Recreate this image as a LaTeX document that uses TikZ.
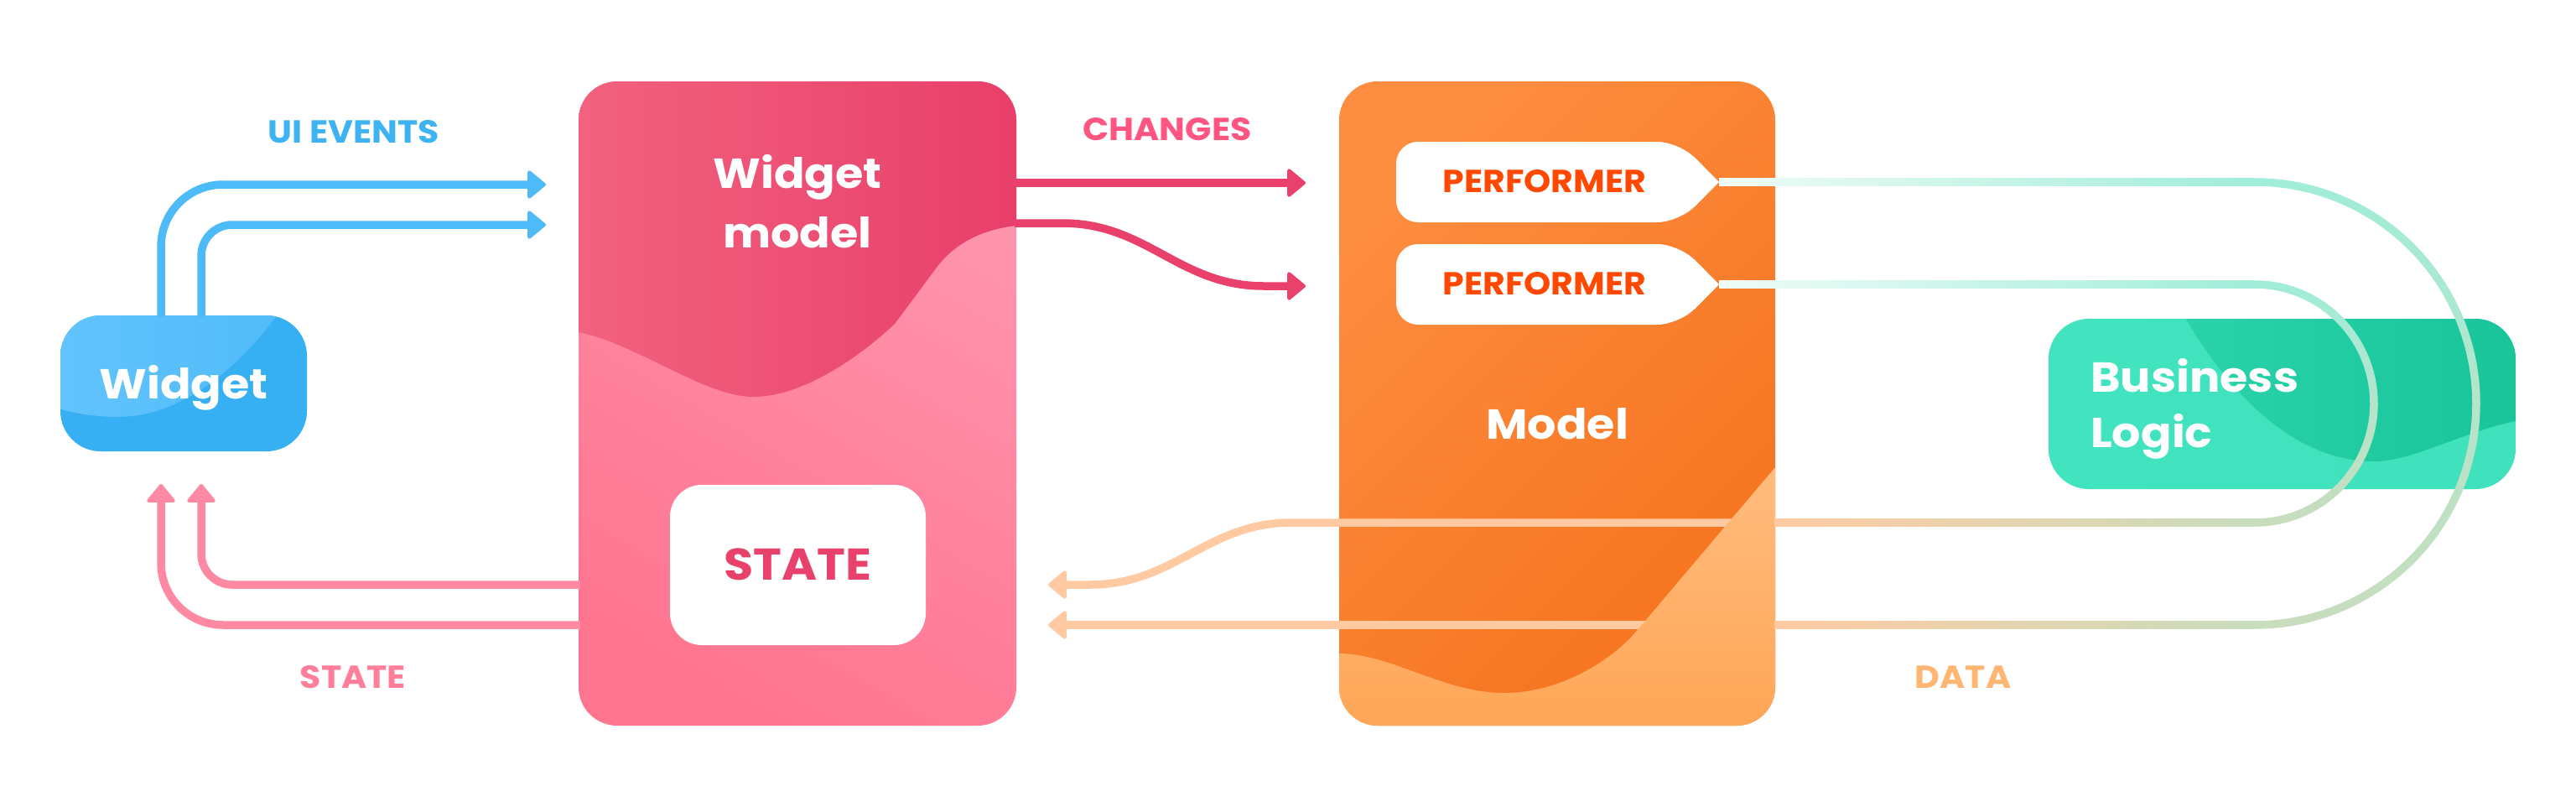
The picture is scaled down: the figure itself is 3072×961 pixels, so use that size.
\documentclass[tikz,border=0pt]{standalone}
\usepackage{fontspec}
\setmainfont{Poppins}[FakeStretch=1.08]
\usetikzlibrary{arrows.meta}
\definecolor{blueL}{HTML}{4DBBF7}
\definecolor{blueTxt}{HTML}{3DB3F1}
\definecolor{wBoxA}{HTML}{63C4FD}
\definecolor{wBoxM}{HTML}{50BBF8}
\definecolor{wBoxB}{HTML}{37AFF3}
\definecolor{pinkL}{HTML}{FF89A2}
\definecolor{pinkTxt}{HTML}{FF7F9B}
\definecolor{wmTopA}{HTML}{F2637F}
\definecolor{wmTopB}{HTML}{E83E6A}
\definecolor{wmBotA}{HTML}{FF96B0}
\definecolor{wmBotB}{HTML}{FF7590}
\definecolor{stateTxt}{HTML}{E8416B}
\definecolor{chg}{HTML}{E9416B}
\definecolor{chgTxt}{HTML}{FF5581}
\definecolor{modA}{HTML}{FD8D40}
\definecolor{modB}{HTML}{F5731D}
\definecolor{modLA}{HTML}{FFBD80}
\definecolor{modLB}{HTML}{FFA555}
\definecolor{perfTxt}{HTML}{FF4800}
\definecolor{peach}{HTML}{FFCAA2}
\definecolor{dataTxt}{HTML}{FFB672}
\definecolor{blA}{HTML}{42E3BF}
\definecolor{blD1}{HTML}{2AD3AA}
\definecolor{blD2}{HTML}{19C499}
\definecolor{tealL}{HTML}{A0EDD9}
\definecolor{tealPale}{HTML}{F0FCF8}
\definecolor{sage}{HTML}{C8DDBC}
\begin{document}
\begin{tikzpicture}[x=1pt,y=-1pt,
  conn/.style={line width=9.5pt},
  arr/.style={-{Triangle[length=23pt,width=37pt,round,line width=4pt]}},
  lbl/.style={font=\bfseries\fontsize{38}{40}\selectfont, anchor=base, inner sep=0pt},
  ttl/.style={font=\bfseries\fontsize{50}{56}\selectfont, text=white, anchor=base, inner sep=0pt},
  perf/.style={font=\bfseries\fontsize{38}{40}\selectfont, text=perfTxt, anchor=base, inner sep=0pt},
  boxnode/.style={inner sep=0pt, outer sep=0pt}]
\fill[white] (0,0) rectangle (3072,961);
\useasboundingbox (0,0) rectangle (3072,961);

% ---------- Widget ----------
\node[boxnode, rounded corners=48pt, minimum width=294pt, minimum height=162pt, fill=wBoxB] (widget) at (219,457) {};
\begin{scope}
  \clip[rounded corners=48pt] (widget.south west) rectangle (widget.north east);
  \shade[left color=wBoxA, right color=wBoxM] (60,365) -- (338,365) .. controls (300,420) and (230,495) .. (143,497) .. controls (110,497) and (85,492) .. (60,484) -- cycle;
\end{scope}

% ---------- Widget model ----------
\node[boxnode, rounded corners=46pt, minimum width=522pt, minimum height=768pt, top color=wmBotA, bottom color=wmBotB, shading angle=-30] (wm) at (951,481) {};
\begin{scope}
  \clip[rounded corners=46pt] (wm.south west) rectangle (wm.north east);
  \shade[left color=wmTopA, right color=wmTopB] (680,85) -- (680,396) -- (690,396) .. controls (760,410) and (840,473) .. (898,473) .. controls (960,473) and (1030,421) .. (1067,386) -- (1116,320) .. controls (1141,286) and (1180,270) .. (1225,268) -- (1225,85) -- cycle;
\end{scope}
\node[boxnode, fill=white, rounded corners=38pt, minimum width=305pt, minimum height=191pt] (statebox) at (951.5,673.5) {};

% ---------- Model ----------
\node[boxnode, rounded corners=46pt, minimum width=520pt, minimum height=768pt, top color=modA, bottom color=modB, shading angle=45] (model) at (1857,481) {};

% data lines (under the light part of the model box)
\coordinate (d1s) at (2118,623);
\coordinate (d1e) at (1250,697);
\coordinate (d2s) at (2118,745);
\coordinate (d2e) at (1250,745);
\draw[conn, peach, arr] (d1s) -- (1540,623) .. controls (1439,623) and (1401,697) .. (1300,697) -- (d1e);
\draw[conn, peach, arr] (d2s) -- (d2e);

\begin{scope}
  \clip[rounded corners=46pt] (model.south west) rectangle (model.north east);
  \shade[top color=modLA, bottom color=modLB] (1585,779) -- (1596,779) .. controls (1660,779) and (1720,826) .. (1794,826) .. controls (1860,826) and (1921,788) .. (1951,753) -- (2117,557) -- (2130,545) -- (2130,880) -- (1585,880) -- cycle;
\end{scope}

% performers
\coordinate (p1tip) at (2050,217);
\coordinate (p2tip) at (2050,339);
\fill[white, rounded corners=26pt] (1665,169) -- (2002,169) -- (p1tip) -- (2002,265) -- (1665,265) -- cycle;
\fill[white] (p1tip) -- (2020,187) -- (2020,247) -- cycle;
\fill[white, rounded corners=26pt] (1665,291) -- (2002,291) -- (p2tip) -- (2002,387) -- (1665,387) -- cycle;
\fill[white] (p2tip) -- (2020,309) -- (2020,369) -- cycle;

% ---------- Business Logic ----------
\node[boxnode, rounded corners=48pt, minimum width=557pt, minimum height=203pt, left color=blA, right color=blA!90!blD1] (bl) at (2721.5,481.5) {};
\begin{scope}
  \clip[rounded corners=48pt] (bl.south west) rectangle (bl.north east);
  \shade[left color=blD1, right color=blD2] (2601,370) .. controls (2640,440) and (2720,550) .. (2831,550) .. controls (2880,550) and (2940,512) .. (3010,500) -- (3010,370) -- cycle;
\end{scope}

% ---------- loops performer -> business logic -> data ----------
\shade[left color=tealPale, right color=tealL] (2050,212.25) rectangle (2689.5,221.75);
\shade[left color=tealPale, right color=tealL] (2050,334.25) rectangle (2689.5,343.75);
\shade[top color=tealL, bottom color=sage] plot[domain=-90:90, samples=91] ({2689+268.75*cos(\x)},{481+268.75*sin(\x)}) -- plot[domain=90:-90, samples=91] ({2689+259.25*cos(\x)},{481+259.25*sin(\x)}) -- cycle;
\shade[top color=tealL, bottom color=sage] plot[domain=-90:90, samples=61] ({2689+146.75*cos(\x)},{481+146.75*sin(\x)}) -- plot[domain=90:-90, samples=61] ({2689+137.25*cos(\x)},{481+137.25*sin(\x)}) -- cycle;
\shade[left color=peach, right color=sage] (2116,740.25) rectangle (2689.5,749.75);
\shade[left color=peach, right color=sage] (2116,618.25) rectangle (2689.5,627.75);

% ---------- UI events ----------
\coordinate (ue1s) at (192,378);
\coordinate (ue1e) at (651,220);
\coordinate (ue2s) at (240,378);
\coordinate (ue2e) at (651,268);
\draw[conn, blueL, rounded corners=74pt, arr] (ue1s) |- (ue1e);
\draw[conn, blueL, rounded corners=37pt, arr] (ue2s) |- (ue2e);

% ---------- state back to widget ----------
\coordinate (st1s) at (692,745);
\coordinate (st1e) at (192,577);
\coordinate (st2s) at (692,697);
\coordinate (st2e) at (240,577);
\draw[conn, pinkL, rounded corners=74pt, arr] (st1s) -| (st1e);
\draw[conn, pinkL, rounded corners=37pt, arr] (st2s) -| (st2e);

% ---------- changes ----------
\coordinate (ch1s) at (1210,218);
\coordinate (ch1e) at (1557,218);
\coordinate (ch2s) at (1210,266);
\coordinate (ch2e) at (1557,341);
\draw[conn, chg, arr] (ch1s) -- (ch1e);
\draw[conn, chg, arr] (ch2s) -- (1267,266) .. controls (1368,266) and (1406,341) .. (1507,341) -- (ch2e);

% ---------- texts ----------
\node[ttl] (twidget) at (219,475) {Widget};
\node[ttl] (twm1) at (951,224) {Widget};
\node[ttl] (twm2) at (951,295) {model};
\node[ttl, text=stateTxt, font=\bfseries\fontsize{53}{56}\selectfont] (tstate) at (951,691) {STATE};
\node[ttl] (tmodel) at (1857,523) {Model};
\node[ttl, anchor=base west] (tbl1) at (2493,467) {Business};
\node[ttl, anchor=base west] (tbl2) at (2493,533) {Logic};
\node[perf] (tp1) at (1842,229) {PERFORMER};
\node[perf] (tp2) at (1842,351) {PERFORMER};
\node[lbl, text=blueTxt] (lblui) at (422,170) {UI EVENTS};
\node[lbl, text=chgTxt] (lblch) at (1392,167) {CHANGES};
\node[lbl, text=pinkTxt] (lblst) at (421,820) {STATE};
\node[lbl, text=dataTxt] (lblda) at (2341,820) {DATA};
\end{tikzpicture}
\end{document}
